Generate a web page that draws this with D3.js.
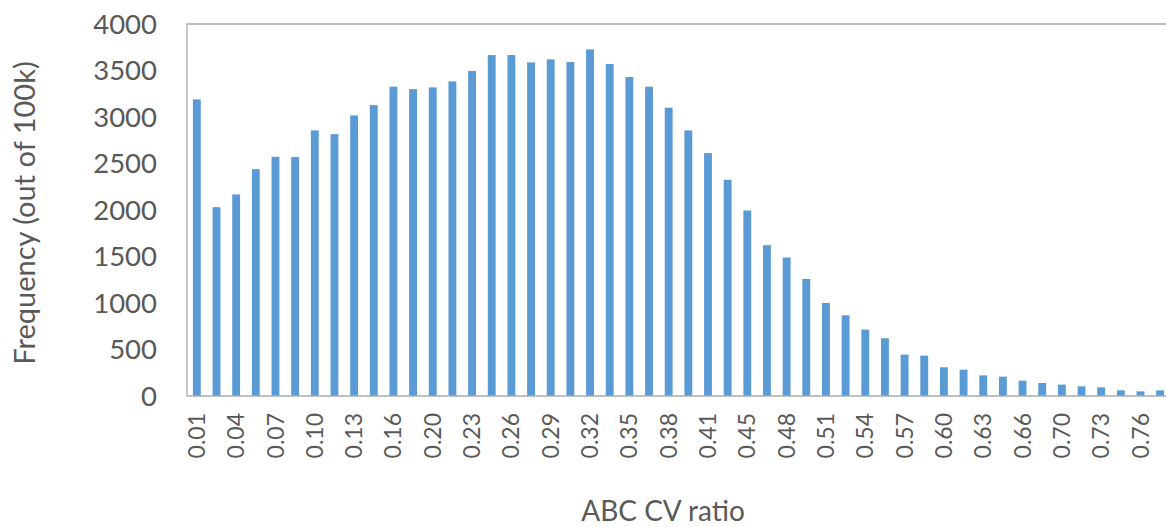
<!DOCTYPE html>
<html>
<head>
<meta charset="utf-8">
<script src="https://cdn.jsdelivr.net/npm/d3@7/dist/d3.min.js"></script>
<style>
  body { margin: 0; background: #fff; }
  svg text { font-family: Lato, "Open Sans", sans-serif; fill: #595959; }
</style>
</head>
<body>
<svg id="chart" width="1166" height="527"></svg>
<script>
// Bin labels (ABC CV ratio), one per bar
const ratioLabels = [
  "0.01", "0.02", "0.04", "0.05", "0.07", "0.09", "0.10", "0.12", "0.13", "0.15",
  "0.16", "0.18", "0.20", "0.21", "0.23", "0.24", "0.26", "0.27", "0.29", "0.30",
  "0.32", "0.34", "0.35", "0.37", "0.38", "0.40", "0.41", "0.43", "0.45", "0.46",
  "0.48", "0.49", "0.51", "0.52", "0.54", "0.55", "0.57", "0.59", "0.60", "0.62",
  "0.63", "0.65", "0.66", "0.68", "0.70", "0.71", "0.73", "0.74", "0.76", "0.77"
];

// Frequency (out of 100k)
const frequency = [
  3189, 2030, 2167, 2439, 2572, 2569, 2856, 2816, 3017, 3128,
  3326, 3300, 3318, 3383, 3494, 3666, 3666, 3587, 3620, 3591,
  3727, 3570, 3430, 3326, 3100, 2856, 2612, 2325, 1995, 1622,
  1489, 1259, 1001, 868, 714, 621, 445, 434, 309, 283,
  222, 208, 165, 140, 122, 104, 93, 61, 50, 61
];

const yTicks = [0, 500, 1000, 1500, 2000, 2500, 3000, 3500, 4000];

const plot = {left: 187, top: 24, right: 1170, bottom: 396};

const svg = d3.select("#chart");

let x = d3.scaleBand()
  .domain(ratioLabels)
  .range([plot.left, plot.right])
  .paddingInner(0.6)
  .paddingOuter(0.3);

let y = d3.scaleLinear()
  .domain([0, 4000])
  .range([plot.bottom, plot.top]);

// plot border (left + top)
svg.append("path")
  .attr("d", `M${plot.left},${plot.bottom}V${plot.top}H${plot.right}`)
  .attr("fill", "none")
  .attr("stroke", "#ababab")
  .attr("stroke-width", 1.3);

// bars
svg.append("g")
  .selectAll("rect")
  .data(frequency)
  .enter()
  .append("rect")
  .attr("x", (d, i) => x(ratioLabels[i]))
  .attr("y", d => y(d))
  .attr("width", x.bandwidth())
  .attr("height", d => y(0) - y(d))
  .attr("fill", "#5b9bd5");

// x axis line
svg.append("line")
  .attr("x1", plot.left).attr("x2", plot.right)
  .attr("y1", plot.bottom).attr("y2", plot.bottom)
  .attr("stroke", "#ababab")
  .attr("stroke-width", 1.3);

// y tick labels
svg.append("g")
  .selectAll("text")
  .data(yTicks)
  .enter()
  .append("text")
  .attr("x", 157)
  .attr("y", d => y(d))
  .attr("dy", "0.35em")
  .attr("text-anchor", "end")
  .style("font-size", "27.5px")
  .text(d => d);

// x tick labels, every other bin
svg.append("g")
  .selectAll("text")
  .data(ratioLabels.filter((d, i) => i % 2 == 0))
  .enter()
  .append("text")
  .attr("transform", d => `translate(${x(d) + x.bandwidth() / 2},413) rotate(-90)`)
  .attr("dy", "0.35em")
  .attr("text-anchor", "end")
  .style("font-size", "23px")
  .text(d => d);

// axis titles
svg.append("text")
  .attr("transform", "translate(25,213) rotate(-90)")
  .attr("dy", "0.35em")
  .attr("text-anchor", "middle")
  .style("font-size", "29px")
  .text("Frequency (out of 100k)");

svg.append("text")
  .attr("x", 663)
  .attr("y", 521)
  .attr("text-anchor", "middle")
  .style("font-size", "28px")
  .text("ABC CV ratio");
</script>
</body>
</html>
